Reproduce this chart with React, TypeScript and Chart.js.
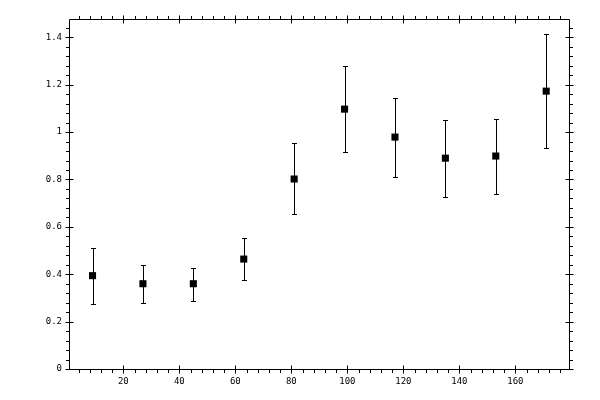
import { useEffect, useRef } from "react"
import { Chart, registerables } from "chart.js"

Chart.register(...registerables)

// sample positions and measured values with their error limits
const xValues = [9, 27, 45, 63, 81, 99, 117, 135, 153, 171]
const yValues = [0.394, 0.36, 0.36, 0.464, 0.802, 1.097, 0.979, 0.89, 0.899, 1.173]
const errLow = [0.274, 0.28, 0.288, 0.375, 0.654, 0.916, 0.81, 0.726, 0.738, 0.932]
const errHigh = [0.509, 0.439, 0.426, 0.551, 0.954, 1.28, 1.143, 1.051, 1.057, 1.416]

const xRange = [0.6, 179.5]
const yRange = [0, 1.4775]
const xMajorStep = 20
const xMinorStep = 4
const yMajorStep = 0.2
const yMinorStep = 0.04

const errorBars = {
  id: "errorBars",
  beforeDatasetsDraw(chart: Chart) {
    const { ctx } = chart
    const xs = chart.scales.x
    const ys = chart.scales.y
    ctx.save()
    ctx.strokeStyle = "#000"
    ctx.lineWidth = 1
    xValues.forEach((xv, i) => {
      const px = Math.round(xs.getPixelForValue(xv)) + 0.5
      const top = Math.round(ys.getPixelForValue(errHigh[i])) + 0.5
      const bot = Math.round(ys.getPixelForValue(errLow[i])) + 0.5
      ctx.beginPath()
      ctx.moveTo(px, top)
      ctx.lineTo(px, bot)
      ctx.moveTo(px - 2.5, top)
      ctx.lineTo(px + 2.5, top)
      ctx.moveTo(px - 2.5, bot)
      ctx.lineTo(px + 2.5, bot)
      ctx.stroke()
    })
    ctx.restore()
  },
}

// box frame with ticks on all four sides
const frameTicks = {
  id: "frameTicks",
  afterDraw(chart: Chart) {
    const { ctx, chartArea } = chart
    const xs = chart.scales.x
    const ys = chart.scales.y
    const left = Math.round(chartArea.left) + 0.5
    const right = Math.round(chartArea.right) - 0.5
    const top = Math.round(chartArea.top) + 0.5
    const bottom = Math.round(chartArea.bottom) + 0.5
    const minorLen = 3.5
    const majorLen = 4
    ctx.save()
    ctx.strokeStyle = "#000"
    ctx.lineWidth = 1
    ctx.beginPath()
    ctx.rect(left, top, right - left, bottom - top)
    ctx.stroke()

    ctx.beginPath()
    const nx = Math.round(xRange[1] / xMinorStep)
    for (let k = 0; k <= nx; k++) {
      const v = k * xMinorStep
      if (v < xRange[0] || v > xRange[1]) continue
      const px = Math.round(xs.getPixelForValue(v)) + 0.5
      const major = k % (xMajorStep / xMinorStep) === 0
      // bottom
      ctx.moveTo(px, major ? bottom - majorLen : bottom)
      ctx.lineTo(px, bottom + (major ? majorLen : minorLen))
      // top
      ctx.moveTo(px, major ? top + majorLen : top)
      ctx.lineTo(px, top - (major ? majorLen : minorLen))
    }
    const ny = Math.round(yRange[1] / yMinorStep)
    for (let k = 0; k <= ny; k++) {
      const v = k * yMinorStep
      if (v > yRange[1]) continue
      const py = Math.round(ys.getPixelForValue(v)) + 0.5
      const major = k % Math.round(yMajorStep / yMinorStep) === 0
      // left
      ctx.moveTo(major ? left + majorLen : left, py)
      ctx.lineTo(left - (major ? majorLen : minorLen), py)
      // right
      ctx.moveTo(major ? right - majorLen : right, py)
      ctx.lineTo(right + (major ? majorLen : minorLen), py)
    }
    ctx.stroke()
    ctx.restore()
  },
}

export default function App() {
  const chartRef = useRef<HTMLCanvasElement>(null)
  const chartInstance = useRef<Chart | null>(null)

  useEffect(() => {
    if (!chartRef.current) return
    if (chartInstance.current) chartInstance.current.destroy()

    const tickFont = { family: "DejaVu Sans Mono", size: 9 }

    chartInstance.current = new Chart(chartRef.current, {
      type: "scatter",
      data: {
        datasets: [
          {
            data: xValues.map((x, i) => ({ x, y: yValues[i] })),
            pointStyle: "rect",
            pointRadius: 5,
            pointHoverRadius: 5,
            backgroundColor: "#000",
            borderColor: "#000",
            borderWidth: 0,
            showLine: false,
          },
        ],
      },
      options: {
        animation: false,
        responsive: true,
        maintainAspectRatio: false,
        layout: { padding: { top: 19, right: 30, left: 0, bottom: 0 } },
        plugins: { legend: { display: false }, tooltip: { enabled: false } },
        scales: {
          x: {
            type: "linear",
            min: xRange[0],
            max: xRange[1],
            grid: { display: false, drawTicks: false },
            border: { display: false },
            ticks: {
              stepSize: xMajorStep,
              includeBounds: false,
              padding: 7,
              color: "#000",
              font: tickFont,
              maxRotation: 0,
              callback: (v) => String(Math.round(Number(v))),
            },
            afterFit: (scale) => {
              scale.height = 31
            },
          },
          y: {
            type: "linear",
            min: yRange[0],
            max: yRange[1],
            grid: { display: false, drawTicks: false },
            border: { display: false },
            ticks: {
              stepSize: yMajorStep,
              includeBounds: false,
              padding: 7,
              color: "#000",
              font: tickFont,
              callback: (v) => String(Math.round(Number(v) * 10) / 10),
            },
            afterFit: (scale) => {
              scale.width = 69
            },
          },
        },
      },
      plugins: [errorBars, frameTicks],
    })

    return () => {
      if (chartInstance.current) {
        chartInstance.current.destroy()
        chartInstance.current = null
      }
    }
  }, [])

  return (
    <div style={{ position: "fixed", left: 0, top: 0, width: 600, height: 400, background: "#fff" }}>
      <canvas ref={chartRef}></canvas>
    </div>
  )
}
